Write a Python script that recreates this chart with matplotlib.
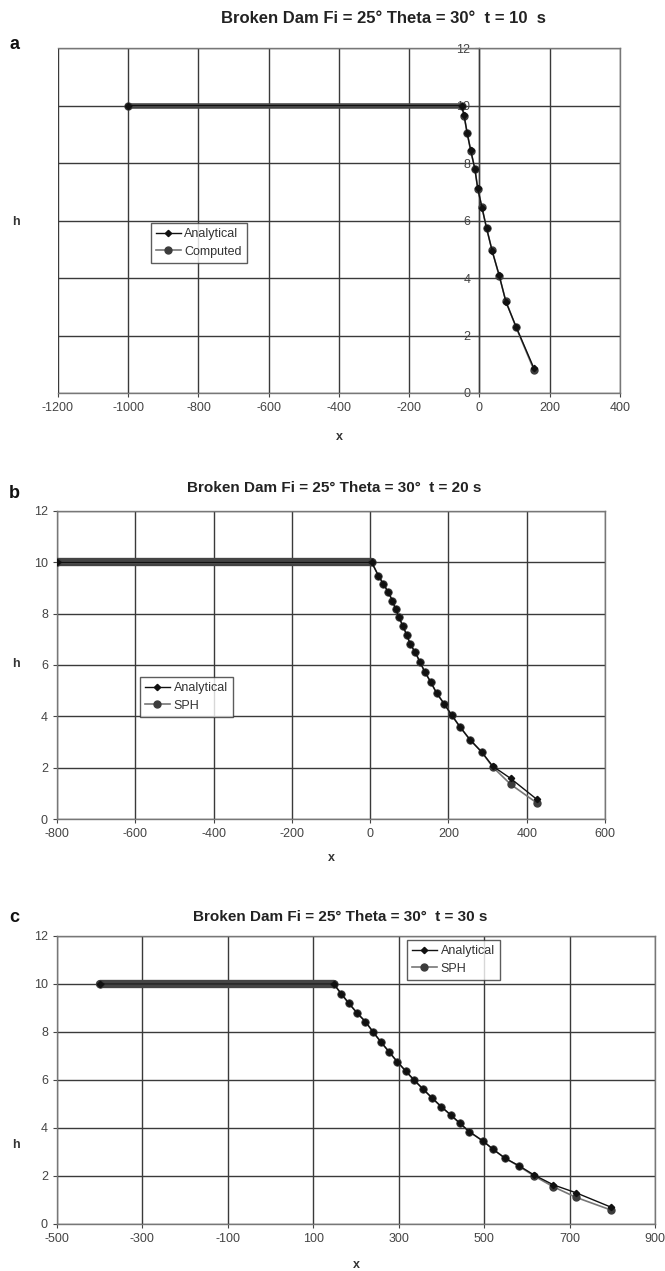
import matplotlib
matplotlib.use("Agg")
import matplotlib.pyplot as plt

plt.rcParams['font.family'] = ['Liberation Sans', 'DejaVu Sans']
plt.rcParams['axes.unicode_minus'] = False

# panel a, t = 10 s
a_x = [-1000, -51, -44, -35, -25, -13, -5, 7, 20, 36, 56, 75, 104, 155]
a_h_analytical = [10, 10, 9.67, 9.03, 8.45, 7.78, 7.12, 6.45, 5.75, 4.94, 4.10, 3.18, 2.31, 0.86]
a_h_computed = [10, 10, 9.65, 9.05, 8.42, 7.80, 7.10, 6.47, 5.73, 4.96, 4.08, 3.20, 2.29, 0.80]

# panel b, t = 20 s
b_x = [-800, 4, 21, 34, 46.5, 57, 65, 74, 83, 93.5, 102, 115, 127.5, 140, 155, 170,
       189, 208.5, 230, 255, 285, 313, 359, 425.5]
b_h_analytical = [10, 10, 9.48, 9.15, 8.83, 8.5, 8.18, 7.86, 7.53, 7.18, 6.82, 6.5, 6.11,
                  5.72, 5.33, 4.9, 4.49, 4.04, 3.58, 3.09, 2.61, 2.06, 1.58, 0.77]
b_h_sph = [10, 10, 9.48, 9.15, 8.83, 8.5, 8.18, 7.86, 7.53, 7.18, 6.82, 6.5, 6.11,
           5.72, 5.33, 4.9, 4.49, 4.04, 3.58, 3.09, 2.61, 2.03, 1.35, 0.63]

# panel c, t = 30 s
c_x = [-400, 148, 165, 183, 202, 222, 240, 257.5, 277, 296.5, 316, 335.7, 357, 378.6,
       400, 421.8, 443, 464.8, 497.7, 521, 549, 582, 617, 662, 715, 797]
c_h_analytical = [10, 10, 9.6, 9.2, 8.8, 8.43, 8.0, 7.6, 7.18, 6.76, 6.38, 6.0, 5.62, 5.24,
                  4.88, 4.54, 4.2, 3.85, 3.45, 3.11, 2.74, 2.42, 2.04, 1.63, 1.30, 0.70]
c_h_sph = [10, 10, 9.6, 9.2, 8.8, 8.43, 8.0, 7.6, 7.18, 6.76, 6.38, 6.0, 5.62, 5.24,
           4.88, 4.54, 4.2, 3.85, 3.45, 3.11, 2.74, 2.40, 2.00, 1.55, 1.11, 0.58]

panels = [
    dict(label="a", title="Broken Dam Fi = 25\u00b0 Theta = 30\u00b0  t = 10  s",
         x=a_x, h1=a_h_analytical, h2=a_h_computed, names=("Analytical", "Computed"),
         xlim=(-1200, 400), xticks=list(range(-1200, 401, 200)),
         pos=[0.0872, 0.6908, 0.8451, 0.2714], yaxis_at_zero=True,
         leg=(0.165, 0.493), title_xy=(0.577, 0.9858), letter_y=0.9646,
         h_y=1 - 222 / 1271, xlab_y=1 - 437 / 1271, title_size=12, band=4),
    dict(label="b", title="Broken Dam Fi = 25\u00b0 Theta = 30\u00b0  t = 20 s",
         x=b_x, h1=b_h_analytical, h2=b_h_sph, names=("Analytical", "SPH"),
         xlim=(-800, 600), xticks=list(range(-800, 601, 200)),
         pos=[0.0857, 0.3556, 0.8241, 0.2424], yaxis_at_zero=False,
         leg=(0.151, 0.461), title_xy=(0.502, 1 - 488 / 1271), letter_y=1 - 494 / 1271,
         h_y=1 - 664 / 1271, xlab_y=1 - 858 / 1271, title_size=11, band=6),
    dict(label="c", title="Broken Dam Fi = 25\u00b0 Theta = 30\u00b0  t = 30 s",
         x=c_x, h1=c_h_analytical, h2=c_h_sph, names=("Analytical", "SPH"),
         xlim=(-500, 900), xticks=list(range(-500, 901, 200)),
         pos=[0.0857, 0.0370, 0.8993, 0.2266], yaxis_at_zero=False,
         leg=(0.585, 0.986), title_xy=(0.512, 1 - 917 / 1271), letter_y=1 - 918 / 1271,
         h_y=1 - 1145 / 1271, xlab_y=1 - 1265 / 1271, title_size=11, band=6),
]

fig = plt.figure(figsize=(6.65, 12.71), dpi=100)

for p in panels:
    ax = fig.add_axes(p["pos"])
    x = p["x"]
    # thick flat band where the markers pile up
    ax.plot(x[:2], p["h2"][:2], color="#444444", lw=p["band"], solid_capstyle="round", zorder=3)
    l2, = ax.plot(x, p["h2"], color="#777777", lw=1.2, marker="o", ms=5,
                  markerfacecolor="#3c3c3c", markeredgecolor="#3c3c3c", zorder=4)
    l1, = ax.plot(x, p["h1"], color="#111111", lw=1.0, marker="D", ms=3.2,
                  markerfacecolor="#111111", markeredgecolor="#111111", zorder=5)

    ax.set_xlim(*p["xlim"])
    ax.set_ylim(0, 12)
    ax.set_xticks(p["xticks"])
    ax.set_yticks(range(0, 13, 2))
    ax.grid(True, color="#3a3a3a", lw=1.0)
    ax.set_axisbelow(True)
    ax.tick_params(labelsize=9, colors="#444444", length=3, width=0.8)
    for s in ax.spines.values():
        s.set_color("#777777")
        s.set_linewidth(1.0)
    if p["yaxis_at_zero"]:
        ax.spines["left"].set_position(("data", 0))
        ax.spines["left"].set_color("#3a3a3a")

    leg = ax.legend([l1, l2], list(p["names"]), loc="upper left", bbox_to_anchor=p["leg"],
                    fontsize=9, frameon=True, fancybox=False, handlelength=2.0,
                    handletextpad=0.3, borderpad=0.4, labelspacing=0.45, borderaxespad=0)
    leg.get_frame().set_edgecolor("#333333")
    leg.get_frame().set_linewidth(1.0)
    for t in leg.get_texts():
        t.set_color("#333333")

    fig.text(p["title_xy"][0], p["title_xy"][1], p["title"], ha="center", va="center",
             fontsize=p["title_size"], fontweight="bold", color="#222222")
    fig.text(0.022, p["letter_y"], p["label"], ha="center", va="center",
             fontsize=13, fontweight="bold", color="#111111")
    fig.text(16 / 665, p["h_y"], "h", ha="center", va="center",
             fontsize=9, fontweight="bold", color="#333333")
    xc = p["pos"][0] + p["pos"][2] / 2
    fig.text(xc, p["xlab_y"], "x", ha="center", va="center",
             fontsize=9, fontweight="bold", color="#333333")

fig.savefig("out.png", dpi=100)
